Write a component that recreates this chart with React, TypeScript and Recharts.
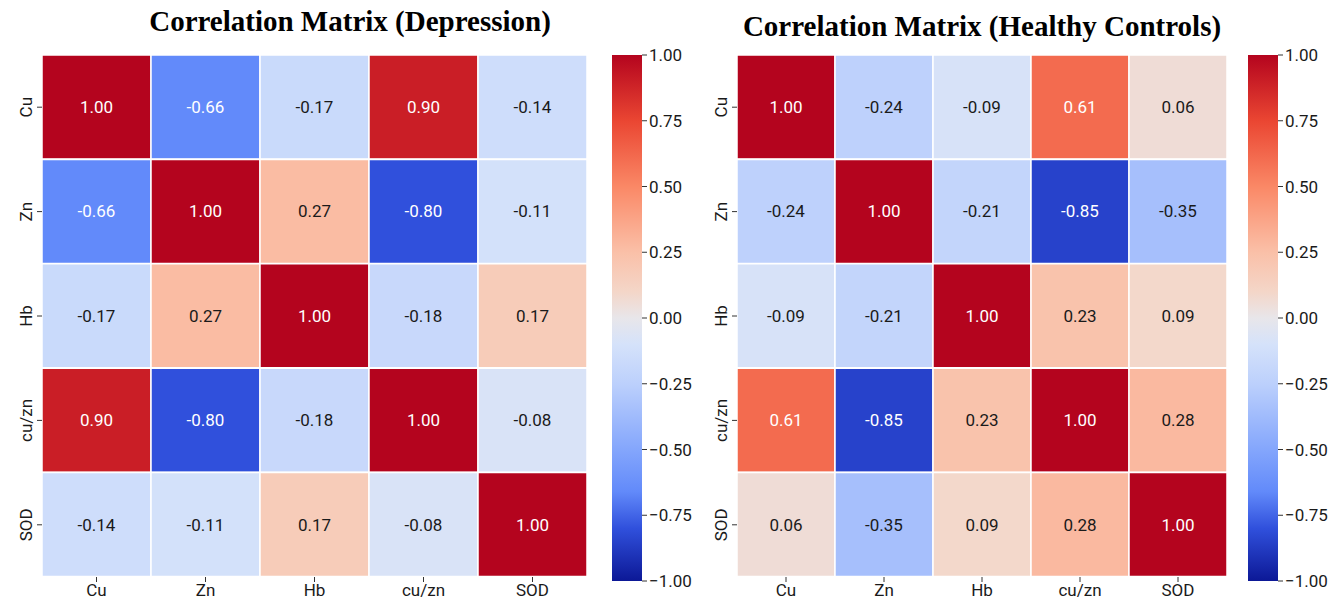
import { BarChart, Bar, XAxis, YAxis, Cell, LabelList } from "recharts";

const variables = ["Cu", "Zn", "Hb", "cu/zn", "SOD"];

const depressionCorr = [
  [1.0, -0.66, -0.17, 0.9, -0.14],
  [-0.66, 1.0, 0.27, -0.8, -0.11],
  [-0.17, 0.27, 1.0, -0.18, 0.17],
  [0.9, -0.8, -0.18, 1.0, -0.08],
  [-0.14, -0.11, 0.17, -0.08, 1.0],
];

const healthyCorr = [
  [1.0, -0.24, -0.09, 0.61, 0.06],
  [-0.24, 1.0, -0.21, -0.85, -0.35],
  [-0.09, -0.21, 1.0, 0.23, 0.09],
  [0.61, -0.85, 0.23, 1.0, 0.28],
  [0.06, -0.35, 0.09, 0.28, 1.0],
];

const colorbarTicks = [-1, -0.75, -0.5, -0.25, 0, 0.25, 0.5, 0.75, 1];

// diverging blue-white-red scale, a punchier coolwarm
const colorStops: [number, number[]][] = [
  [-1, [12, 24, 150]],
  [-0.8, [48, 80, 220]],
  [-0.66, [98, 138, 250]],
  [-0.5, [132, 166, 252]],
  [-0.25, [188, 208, 252]],
  [-0.1, [213, 226, 250]],
  [0, [232, 230, 234]],
  [0.1, [244, 214, 200]],
  [0.25, [250, 192, 168]],
  [0.5, [250, 136, 102]],
  [0.75, [234, 70, 50]],
  [1, [180, 4, 30]],
];

function corrColor(v: number) {
  for (let k = 1; k < colorStops.length; k++) {
    const [v1, c1] = colorStops[k];
    if (v <= v1) {
      const [v0, c0] = colorStops[k - 1];
      const t = (v - v0) / (v1 - v0);
      const c = c0.map((a, i) => Math.round(a + (c1[i] - a) * t));
      return `rgb(${c[0]},${c[1]},${c[2]})`;
    }
  }
  const c = colorStops[colorStops.length - 1][1];
  return `rgb(${c[0]},${c[1]},${c[2]})`;
}

const SANS = "Roboto, 'DejaVu Sans', sans-serif";
const TEXT = "#1a1a1a";

function RowTick(props: any) {
  const { x, y, payload } = props;
  const tx = x - 3;
  return (
    <text
      x={tx}
      y={y}
      transform={`rotate(-90 ${tx} ${y})`}
      textAnchor="middle"
      fontFamily={SANS}
      fontSize={17}
      fill={TEXT}
    >
      {payload.value}
    </text>
  );
}

function CellLabel(props: any) {
  const { x, y, width, height, value } = props;
  const v = Number(value);
  return (
    <text
      x={x + width / 2}
      y={y + height / 2}
      textAnchor="middle"
      dominantBaseline="central"
      fontFamily={SANS}
      fontSize={17}
      fill={Math.abs(v) >= 0.5 ? "#ffffff" : TEXT}
    >
      {v.toFixed(2)}
    </text>
  );
}

type HeatmapProps = {
  matrix: number[][];
  left: number;
  width: number;
};

function Heatmap({ matrix, left, width }: HeatmapProps) {
  const data = variables.map((name, i) => {
    const row: Record<string, any> = { name };
    variables.forEach((_, j) => {
      row[`c${j}`] = 1;
      row[`v${j}`] = matrix[i][j];
    });
    return row;
  });

  return (
    <div style={{ position: "absolute", left, top: 0 }}>
      <BarChart
        width={width}
        height={606}
        data={data}
        layout="vertical"
        barCategoryGap={0}
        margin={{ top: 55, right: 3, bottom: 0, left: 14 }}
      >
        <XAxis
          type="number"
          domain={[0, 5]}
          ticks={[0.5, 1.5, 2.5, 3.5, 4.5]}
          tickFormatter={(t: number) => variables[Math.floor(t)]}
          axisLine={false}
          tickSize={5}
          tickLine={{ stroke: "#333" }}
          height={29}
          tick={{ fontFamily: SANS, fontSize: 17, fill: TEXT }}
        />
        <YAxis
          type="category"
          dataKey="name"
          width={28}
          axisLine={false}
          tickSize={5}
          tickLine={{ stroke: "#333" }}
          tick={<RowTick />}
        />
        {variables.map((_, j) => (
          <Bar
            key={j}
            dataKey={`c${j}`}
            stackId="cells"
            stroke="#ffffff"
            strokeWidth={1.5}
            isAnimationActive={false}
          >
            {data.map((row, i) => (
              <Cell key={i} fill={corrColor(row[`v${j}`])} />
            ))}
            <LabelList dataKey={`v${j}`} content={<CellLabel />} />
          </Bar>
        ))}
      </BarChart>
    </div>
  );
}

const colorbarData = [{ name: "scale", range: [-1, 1] }];

function formatTick(t: number) {
  const s = Math.abs(t).toFixed(2);
  return t < 0 ? `\u2212${s}` : s;
}

function Colorbar({ left }: { left: number }) {
  return (
    <div style={{ position: "absolute", left, top: 0 }}>
      <BarChart
        width={100}
        height={606}
        data={colorbarData}
        barCategoryGap={0}
        margin={{ top: 55, right: 0, bottom: 25, left: 12 }}
      >
        <XAxis dataKey="name" hide />
        <YAxis
          orientation="right"
          domain={[-1, 1]}
          ticks={colorbarTicks}
          tickFormatter={formatTick}
          width={58}
          axisLine={false}
          tickSize={5}
          tickLine={{ stroke: "#333" }}
          tick={{ fontFamily: SANS, fontSize: 17, fill: TEXT }}
        />
        <Bar dataKey="range" fill="url(#corrGradient)" isAnimationActive={false} />
      </BarChart>
    </div>
  );
}

const titleStyle = {
  position: "absolute" as const,
  top: 4,
  width: 700,
  textAlign: "center" as const,
  fontFamily: "'Liberation Serif', 'Times New Roman', serif",
  fontWeight: 700,
  fontSize: 29,
  lineHeight: "34px",
  color: "#000",
};

export default function App() {
  return (
    <div style={{ position: "absolute", left: 0, top: 0, width: 1336, height: 606, background: "#fff" }}>
      <svg width={0} height={0} style={{ position: "absolute" }}>
        <defs>
          <linearGradient id="corrGradient" x1="0" y1="0" x2="0" y2="1">
            {colorStops
              .slice()
              .reverse()
              .map(([v]) => (
                <stop key={v} offset={(1 - v) / 2} stopColor={corrColor(v)} />
              ))}
          </linearGradient>
        </defs>
      </svg>

      <div style={{ ...titleStyle, left: 0 }}>Correlation Matrix (Depression)</div>
      <div style={{ ...titleStyle, left: 632, top: 9 }}>Correlation Matrix (Healthy Controls)</div>

      <Heatmap matrix={depressionCorr} left={0} width={590} />
      <Colorbar left={600} />

      <Heatmap matrix={healthyCorr} left={695} width={535} />
      <Colorbar left={1236} />
    </div>
  );
}
